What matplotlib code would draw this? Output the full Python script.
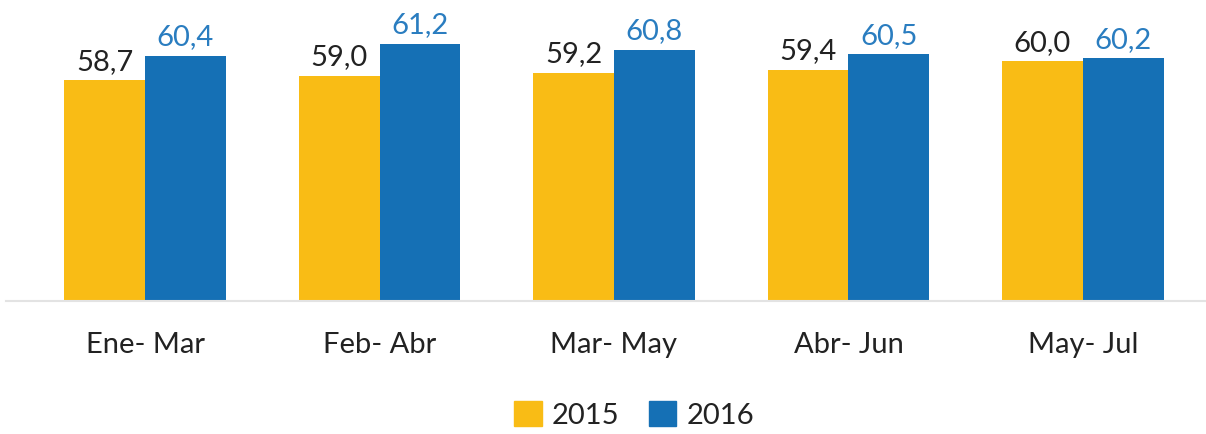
import matplotlib
matplotlib.use("Agg")
import matplotlib.pyplot as plt
import numpy as np
from matplotlib.patches import Patch

categories = ["Ene- Mar", "Feb- Abr", "Mar- May", "Abr- Jun", "May- Jul"]
series_names = ["2015", "2016"]
values_2015 = [58.7, 59.0, 59.2, 59.4, 60.0]
values_2016 = [60.4, 61.2, 60.8, 60.5, 60.2]

c2015 = "#F9BC15"
c2016 = "#1570B5"
label_c2015 = "#222222"
label_c2016 = "#2A7DC0"

plt.rcParams['font.family'] = ['Lato', 'DejaVu Sans']

W, H = 1206, 434
fig = plt.figure(figsize=(W / 100, H / 100), dpi=100)
ax = fig.add_axes([6 / W, 1 - 301 / H, 1200 / W, 301 / H])

x = np.arange(len(categories))
bw = 0.345
ax.bar(x - bw / 2, values_2015, bw, color=c2015, zorder=2)
ax.bar(x + bw / 2, values_2016, bw, color=c2016, zorder=2)

fs = 21
for xi, v in zip(x, values_2015):
    ax.annotate(f"{v:.1f}".replace('.', ','), (xi - bw / 2, v), xytext=(0, 4),
                textcoords="offset points", ha="center", va="bottom",
                fontsize=fs, color=label_c2015)
for xi, v in zip(x, values_2016):
    ax.annotate(f"{v:.1f}".replace('.', ','), (xi + bw / 2, v), xytext=(0, 4),
                textcoords="offset points", ha="center", va="bottom",
                fontsize=fs, color=label_c2016)

ax.set_ylim(43.4, 64.25)
ax.set_xlim(-0.593, 4.525)
ax.set_yticks([])
ax.set_xticks(x)
ax.set_xticklabels(categories, fontsize=fs, color="#222222")
ax.tick_params(axis="x", length=0, pad=22)
for s in ["top", "right", "left"]:
    ax.spines[s].set_visible(False)
ax.spines["bottom"].set_color("#E3E3E3")
ax.spines["bottom"].set_linewidth(1.5)
ax.patch.set_alpha(0)

handles = [Patch(color=c2015, label=series_names[0]), Patch(color=c2016, label=series_names[1])]
leg = fig.legend(handles=handles, loc="center", bbox_to_anchor=(634 / W, 1 - 415 / H),
                 ncol=2, frameon=False, fontsize=fs, handlelength=0.95, handleheight=0.95,
                 columnspacing=1.0, handletextpad=0.35)
for t in leg.get_texts():
    t.set_color("#222222")

fig.savefig("out.png", dpi=100)
